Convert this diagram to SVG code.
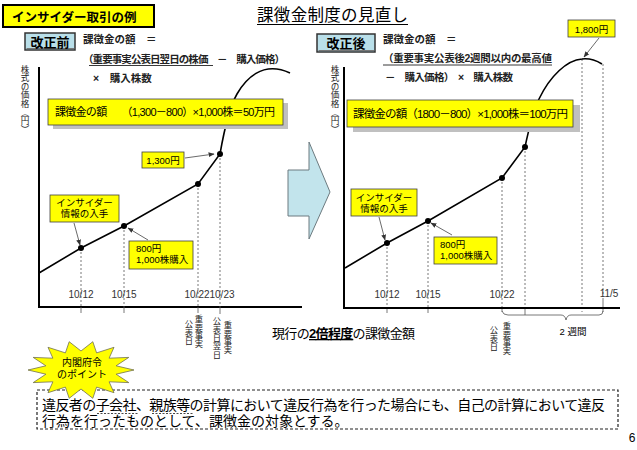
<svg xmlns="http://www.w3.org/2000/svg" width="637" height="450" viewBox="0 0 637 450">
<style>
text{font-family:"Liberation Sans","Noto Sans CJK JP",sans-serif;fill:#000}
.b{font-weight:bold}
.yb{fill:#ffff00;stroke:#404040;stroke-width:0.8}
.sh{fill:#c0c0c0}
.ax{stroke:#000;stroke-width:2;fill:none}
.cv{stroke:#000;stroke-width:1.6;fill:none}
.dl{stroke:#555;stroke-width:0.8;stroke-dasharray:2,2;fill:none}
.tk{stroke:#555;stroke-width:0.8;fill:none}
.ar{stroke:#444;stroke-width:0.8;fill:none;marker-end:url(#ah)}
.xl{font-size:10px;fill:#333;text-anchor:middle}
.vt{font-family:"Noto Sans CJK JP",sans-serif;font-size:8.3px;fill:#222;writing-mode:vertical-rl;text-orientation:upright}
.yl{font-family:"Noto Sans CJK JP",sans-serif;font-size:8.6px;fill:#222;writing-mode:vertical-rl;text-orientation:upright}
.cl{font-size:9.5px}
.hd{font-size:10.5px;font-weight:bold;fill:#222}
.btn{fill:#b9dfe9;stroke:#333;stroke-width:1.5}
.dot{fill:#000}
</style>
<defs>
<marker id="ah" viewBox="0 0 10 10" refX="9" refY="5" markerWidth="6" markerHeight="6" markerUnits="userSpaceOnUse" orient="auto">
<path d="M0,1 L10,5 L0,9 z" fill="#333"/>
</marker>
</defs>

<g id="title-box">
<rect x="3" y="5" width="151" height="22" fill="#ffff00" stroke="#000" stroke-width="2"/>
<text x="12" y="22" class="b" font-size="12.5">インサイダー取引の例</text>
</g>
<g id="main-title">
<text x="257" y="21" font-size="16.5" textLength="151">課徴金制度の見直し</text>
<line x1="257" y1="24.5" x2="408" y2="24.5" stroke="#000" stroke-width="1"/>
</g>

<!-- left header -->
<g id="before-label">
<rect x="25" y="33" width="50" height="17" class="btn"/>
<line x1="26.5" y1="48.5" x2="74" y2="48.5" stroke="#777" stroke-width="1"/>
<text x="50" y="46.5" class="b" font-size="13" text-anchor="middle" fill="#111">改正前</text>
</g>
<g id="before-formula">
<text x="83" y="43" class="hd">課徴金の額　＝</text>
<text x="83" y="63" class="hd" textLength="202">（重要事実公表日翌日の株価　－　購入価格）</text>
<line x1="89" y1="65.5" x2="213" y2="65.5" stroke="#222" stroke-width="0.9"/>
<text x="93" y="82" class="hd">×　購入株数</text>
</g>

<!-- left chart -->
<g id="left-chart">
<text class="yl" x="25" y="65">株式の価格︵円︶</text>
<path class="ax" d="M39,67 V307 H302"/>
</g>

<g id="connectors">
<!-- left dashed verticals -->
<path class="dl" d="M81,248 V307 M124,226 V307 M198,184 V307 M220,154 V307"/>
<path class="tk" d="M81,307 V313 M124,307 V313 M198,307 V313 M220,307 V314"/>
<!-- left curve -->
<path class="cv" d="M39,273 L81,248 L124,226 L198,184 L220,154 C224,131 229,108 237,94 C245,80 262,60 290,73"/>
<!-- right dashed verticals -->
<path class="dl" d="M387,243 V308 M428,221 V308 M502,178 V308 M525,147 V308 M582,59 V312 M603,64 V296"/>
<path class="tk" d="M387,308 V313 M428,308 V313 M502,308 V312 M525,308 V315 M603,298 V312"/>
<!-- right curve -->
<path class="cv" d="M345,268 L387,243 L428,221 L502,178 L525,147 C529,128 533,112 539,99 C550,76 567,60 582,59 C590,58 597,61 602,64"/>
<!-- brace -->
<path class="tk" d="M502,311 Q503,315 508,315 L561,315 Q565,315 566,320 Q567,315 571,315 L599,315 Q603,315 603,311"/>
<!-- callout arrows -->
<path class="ar" d="M185,158 L214,154"/>
<path class="ar" d="M74,223 L80,245"/>
<path class="ar" d="M148,240 L128,228"/>
<path class="ar" d="M379,217 L385,240"/>
<path class="ar" d="M452,235 L431,223"/>
<path class="ar" d="M599,38 L584,57"/>
</g>

<g id="left-dots">
<circle class="dot" cx="81" cy="248" r="3"/>
<circle class="dot" cx="124" cy="226" r="3"/>
<circle class="dot" cx="198" cy="184" r="3"/>
<circle class="dot" cx="220" cy="154" r="3"/>
</g>

<g id="left-xlabels">
<text class="xl" x="81" y="298">10/12</text>
<text class="xl" x="124" y="298">10/15</text>
<text class="xl" x="197" y="298">10/22</text>
<text class="xl" x="222" y="298">10/23</text>
<text class="vt" x="199" y="315">重要事実</text>
<text class="vt" x="189" y="320">公表日</text>
<text class="vt" x="228" y="321">重要事実</text>
<text class="vt" x="217" y="317">公表日翌日</text>
</g>

<g id="left-result-box">
<rect class="sh" x="53" y="103" width="235" height="26"/>
<rect class="yb" x="48" y="99" width="235" height="26"/>
<text x="55" y="116" font-size="11" textLength="220">課徴金の額　　（1,300－800）×1,000株＝50万円</text>
</g>

<g id="callout-1300">
<rect class="yb" x="142" y="152" width="42" height="16"/>
<text class="cl" x="163" y="163.5" text-anchor="middle">1,300円</text>
</g>
<g id="callout-insider-left">
<rect class="yb" x="50" y="195" width="69" height="27"/>
<text class="cl" x="84.5" y="206" text-anchor="middle">インサイダー</text>
<text class="cl" x="84.5" y="217" text-anchor="middle">情報の入手</text>
</g>
<g id="callout-800-left">
<rect class="yb" x="129" y="241" width="64" height="28"/>
<text class="cl" x="136" y="252">800円</text>
<text class="cl" x="136" y="263">1,000株購入</text>
</g>

<g id="big-arrow">
<polygon points="288,170 309,170 309,142 330,192 309,239 309,216 288,216" fill="#c2e4ec" stroke="#6d7b80" stroke-width="1"/>
</g>

<!-- right header -->
<g id="after-label">
<rect x="317" y="34" width="58" height="18" class="btn"/>
<line x1="318.5" y1="50.5" x2="374" y2="50.5" stroke="#777" stroke-width="1"/>
<text x="346" y="48" class="b" font-size="13" text-anchor="middle" fill="#111">改正後</text>
</g>
<g id="after-formula">
<text x="383" y="43" class="hd">課徴金の額　＝</text>
<text x="383" y="62" class="hd" textLength="169">（重要事実公表後2週間以内の最高値</text>
<line x1="383" y1="65" x2="552" y2="65" stroke="#222" stroke-width="0.9"/>
<text x="385" y="81" class="hd" textLength="128">－　購入価格）　×　購入株数</text>
</g>

<g id="right-chart">
<text class="yl" x="335" y="65">株式の価格︵円︶</text>
<path class="ax" d="M344,67 V308 H620"/>
</g>

<g id="right-dots">
<circle class="dot" cx="387" cy="243" r="3"/>
<circle class="dot" cx="428" cy="221" r="3"/>
<circle class="dot" cx="502" cy="178" r="3"/>
<circle class="dot" cx="525" cy="147" r="3"/>
</g>

<g id="right-xlabels">
<text class="xl" x="387" y="298">10/12</text>
<text class="xl" x="428" y="298">10/15</text>
<text class="xl" x="502" y="298">10/22</text>
<text class="xl" x="609" y="297">11/5</text>
<text class="vt" x="507" y="322">重要事実</text>
<text class="vt" x="494" y="326">公表日</text>
<text x="573" y="335" font-size="9.5" text-anchor="middle" fill="#222">2 週間</text>
</g>

<g id="right-result-box">
<rect class="sh" x="353" y="105" width="227" height="27"/>
<rect class="yb" x="347" y="100" width="226" height="27"/>
<text x="353" y="117.5" font-size="11.5" textLength="215">課徴金の額（1800－800）×1,000株＝100万円</text>
</g>

<g id="callout-1800">
<rect class="yb" x="568" y="20" width="47" height="17"/>
<text class="cl" x="591.5" y="32.5" text-anchor="middle">1,800円</text>
</g>
<g id="callout-insider-right">
<rect class="yb" x="351" y="189" width="66" height="27"/>
<text class="cl" x="384" y="201" text-anchor="middle">インサイダー</text>
<text class="cl" x="384" y="212" text-anchor="middle">情報の入手</text>
</g>
<g id="callout-800-right">
<rect class="yb" x="434" y="237" width="63" height="27"/>
<text class="cl" x="440" y="248">800円</text>
<text class="cl" x="440" y="259">1,000株購入</text>
</g>

<g id="current-note">
<text x="272" y="338" font-size="13" textLength="143">現行の<tspan class="b" style="text-decoration:underline">2倍程度</tspan>の課徴金額</text>
</g>

<g id="point-box">
<rect x="37" y="390" width="581" height="39" fill="none" stroke="#222" stroke-width="1.2" stroke-dasharray="3,2"/>
<text x="42" y="410" font-size="14" textLength="563">違反者の子会社、親族等の計算において違反行為を行った場合にも、自己の計算において違反</text>
<text x="42" y="426" font-size="14">行為を行ったものとして、課徴金の対象とする。</text>
<path d="M97,413.5 H138 M152,413.5 H193" stroke="#333" stroke-width="0.9" stroke-dasharray="2,1.5"/>
</g>

<g id="starburst">
<polygon points="134,370 116.1,374.2 128.8,382.6 109.1,381.8 114,392.7 96.6,387.1 92.8,398.3 81,389 69.2,398.3 65.4,387.1 48,392.7 52.9,381.8 33.2,382.6 45.9,374.2 28,370 45.9,365.8 33.2,357.4 52.9,358.2 48,347.3 65.4,352.9 69.2,341.7 81,351 92.8,341.7 96.6,352.9 114,347.3 109.1,358.2 128.8,357.4 116.1,365.8" fill="#ffff00" stroke="#707050" stroke-width="0.8"/>
<text x="82" y="366" font-size="10" text-anchor="middle">内閣府令</text>
<text x="82" y="378" font-size="10" text-anchor="middle">のポイント</text>
</g>

<text x="632" y="442" font-size="12" text-anchor="middle">6</text>
</svg>
